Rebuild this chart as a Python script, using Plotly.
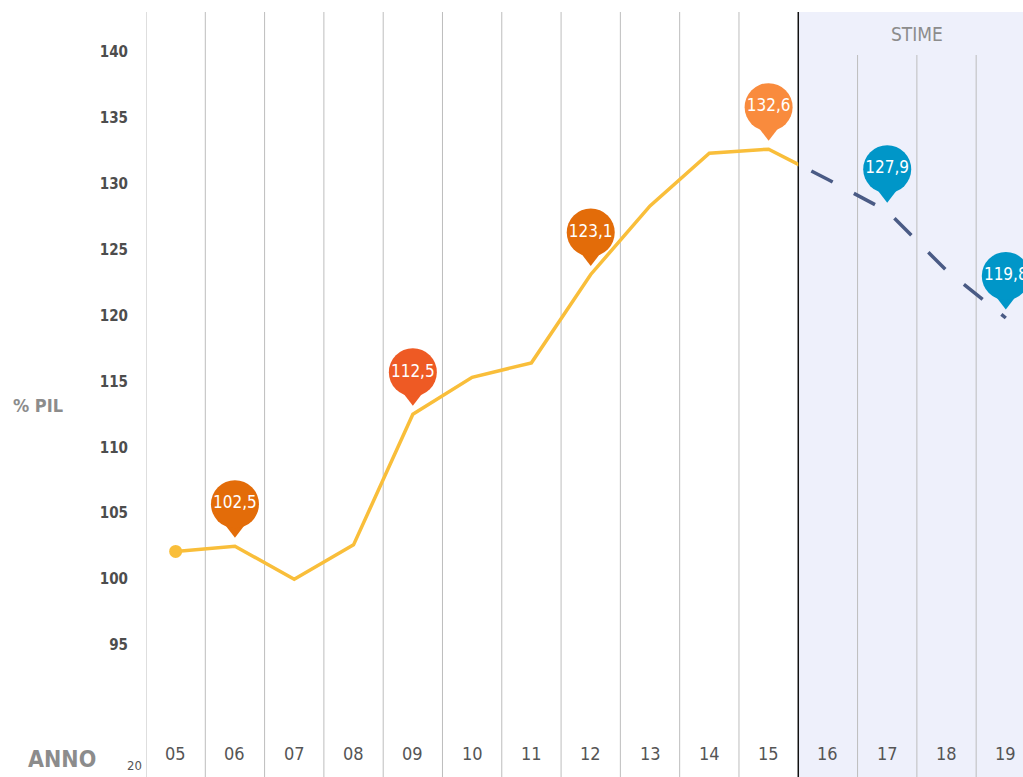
import plotly.graph_objects as go

# ---------------- data ----------------
years_hist = [2005, 2006, 2007, 2008, 2009, 2010, 2011, 2012, 2013, 2014, 2015]
debt_hist = [102.1, 102.5, 100.0, 102.6, 112.5, 115.3, 116.4, 123.1, 128.3, 132.3, 132.6]
years_est = [2016, 2017, 2018, 2019]
debt_est = [130.3, 127.9, 123.4, 119.8]

pin_years = [2006, 2009, 2012, 2015, 2017, 2019]
pin_values = [102.5, 112.5, 123.1, 132.6, 127.9, 119.8]
pin_colors = ["#E36C09", "#EE5A24", "#E36C09", "#F98B3D", "#0096C8", "#0096C8"]

y_ticks = [95, 100, 105, 110, 115, 120, 125, 130, 135, 140]
year_labels = ["05", "06", "07", "08", "09", "10", "11", "12", "13", "14", "15", "16", "17", "18", "19"]

# ---------------- styling / scales ----------------
FONT = "DejaVu Sans Condensed, Liberation Sans Narrow, sans-serif"
X_MIN, X_MAX = 2004.5, 2019.29
Y_MIN, Y_MAX = 85, 143
W, H = 1023, 777
PL, PT = 146, 12              # plot area left / top in pixels
plot_w = W - PL
plot_h = H - PT
px_per_unit = plot_h / (Y_MAX - Y_MIN)
split = years_hist[-1] + 0.5
d = (split - X_MIN) / (X_MAX - X_MIN)


def px(x):
    return (x - PL) / plot_w


def py(y):
    return (H - y) / plot_h


fig = go.Figure()

# solid historical line (clipped at the estimate boundary by its axis domain)
fig.add_trace(go.Scatter(
    x=years_hist + years_est[:1], y=debt_hist + debt_est[:1],
    mode="lines", line=dict(color="#F9BE3A", width=3.5),
    xaxis="x2", yaxis="y", hoverinfo="skip", showlegend=False))
fig.add_trace(go.Scatter(
    x=years_hist[:1], y=debt_hist[:1], mode="markers",
    marker=dict(color="#F9BE3A", size=13), xaxis="x2", yaxis="y",
    hoverinfo="skip", showlegend=False))

# dashed estimate line
fig.add_trace(go.Scatter(
    x=years_hist[-1:] + years_est, y=debt_hist[-1:] + debt_est,
    mode="lines", line=dict(color="#4A5B85", width=3.5, dash="24px,24px"),
    xaxis="x3", yaxis="y", hoverinfo="skip", showlegend=False))

# pins
circle_off = 42 / px_per_unit
tri_off = 17 / px_per_unit
fig.add_trace(go.Scatter(
    x=pin_years, y=[v + tri_off for v in pin_values], mode="markers",
    marker=dict(symbol="triangle-down", size=17, color=pin_colors, line=dict(width=0)),
    cliponaxis=False, hoverinfo="skip", showlegend=False))
fig.add_trace(go.Scatter(
    x=pin_years, y=[v + circle_off for v in pin_values], mode="markers+text",
    marker=dict(symbol="circle", size=48, color=pin_colors, line=dict(width=0)),
    text=[f"{v:.1f}".replace(".", ",") for v in pin_values],
    textposition="middle center",
    textfont=dict(family=FONT, size=17, color="white"),
    cliponaxis=False, hoverinfo="skip", showlegend=False))

# shapes: shaded estimate band, grid lines, boundary
shapes = [dict(type="rect", xref="x", yref="paper", x0=split, x1=X_MAX, y0=0, y1=1,
               fillcolor="#EEF0FB", line=dict(width=0), layer="below")]
all_years = years_hist + years_est
for yr in all_years:
    b = yr - 0.5
    if b < split:
        shapes.append(dict(type="line", xref="x", yref="paper", x0=b, x1=b, y0=0, y1=1,
                           line=dict(color="#BDBDBD", width=1), layer="below"))
    elif b > split:
        shapes.append(dict(type="line", xref="x", yref="paper", x0=b, x1=b, y0=0, y1=py(55),
                           line=dict(color="#BDBDBD", width=1), layer="below"))
shapes.append(dict(type="line", xref="x", yref="paper", x0=split, x1=split, y0=0, y1=1,
                   line=dict(color="#111111", width=1.5), layer="below"))

annotations = []
for yr, lab in zip(all_years, year_labels):
    annotations.append(dict(x=yr, y=py(753), xref="x", yref="paper",
                            text=lab, showarrow=False, xanchor="center", yanchor="middle",
                            font=dict(family=FONT, size=18, color="#555555")))
annotations += [
    dict(x=px(62), y=py(759), xref="paper", yref="paper",
         text="<b>ANNO</b>", showarrow=False, xanchor="center", yanchor="middle",
         font=dict(family=FONT, size=23, color="#8C8C8C")),
    dict(x=px(134), y=py(765), xref="paper", yref="paper",
         text="20", showarrow=False, xanchor="center", yanchor="middle",
         font=dict(family=FONT, size=13, color="#555555")),
    dict(x=px(38), y=py(406), xref="paper", yref="paper",
         text="<b>% PIL</b>", showarrow=False, xanchor="center", yanchor="middle",
         font=dict(family=FONT, size=18, color="#8C8C8C")),
    dict(x=(years_est[0] + years_est[-1]) / 2, y=py(34), xref="x", yref="paper",
         text="STIME", showarrow=False, xanchor="center", yanchor="middle",
         font=dict(family=FONT, size=19, color="#8C8C8C")),
]

fig.update_layout(
    width=W, height=H,
    margin=dict(l=PL, r=0, t=PT, b=0),
    paper_bgcolor="white", plot_bgcolor="rgba(0,0,0,0)",
    showlegend=False,
    xaxis=dict(range=[X_MIN, X_MAX], showgrid=False, zeroline=False, showticklabels=False,
               ticks="", showline=False),
    xaxis2=dict(range=[X_MIN, split], domain=[0, d], anchor="y", visible=False),
    xaxis3=dict(range=[split, X_MAX], domain=[d, 1], anchor="y", visible=False),
    yaxis=dict(range=[Y_MIN, Y_MAX], tickvals=y_ticks, ticktext=[str(t) for t in y_ticks],
               showgrid=False, zeroline=False, showline=False, ticks="",
               ticklabelstandoff=17,
               tickfont=dict(family=FONT, size=15, color="#4D4D4D", weight="bold")),
    shapes=shapes, annotations=annotations,
)

fig.write_html(
    "out.html",
    config={"displayModeBar": False, "staticPlot": True},
    post_script="document.body.style.margin='0';document.body.style.overflow='hidden';",
)
